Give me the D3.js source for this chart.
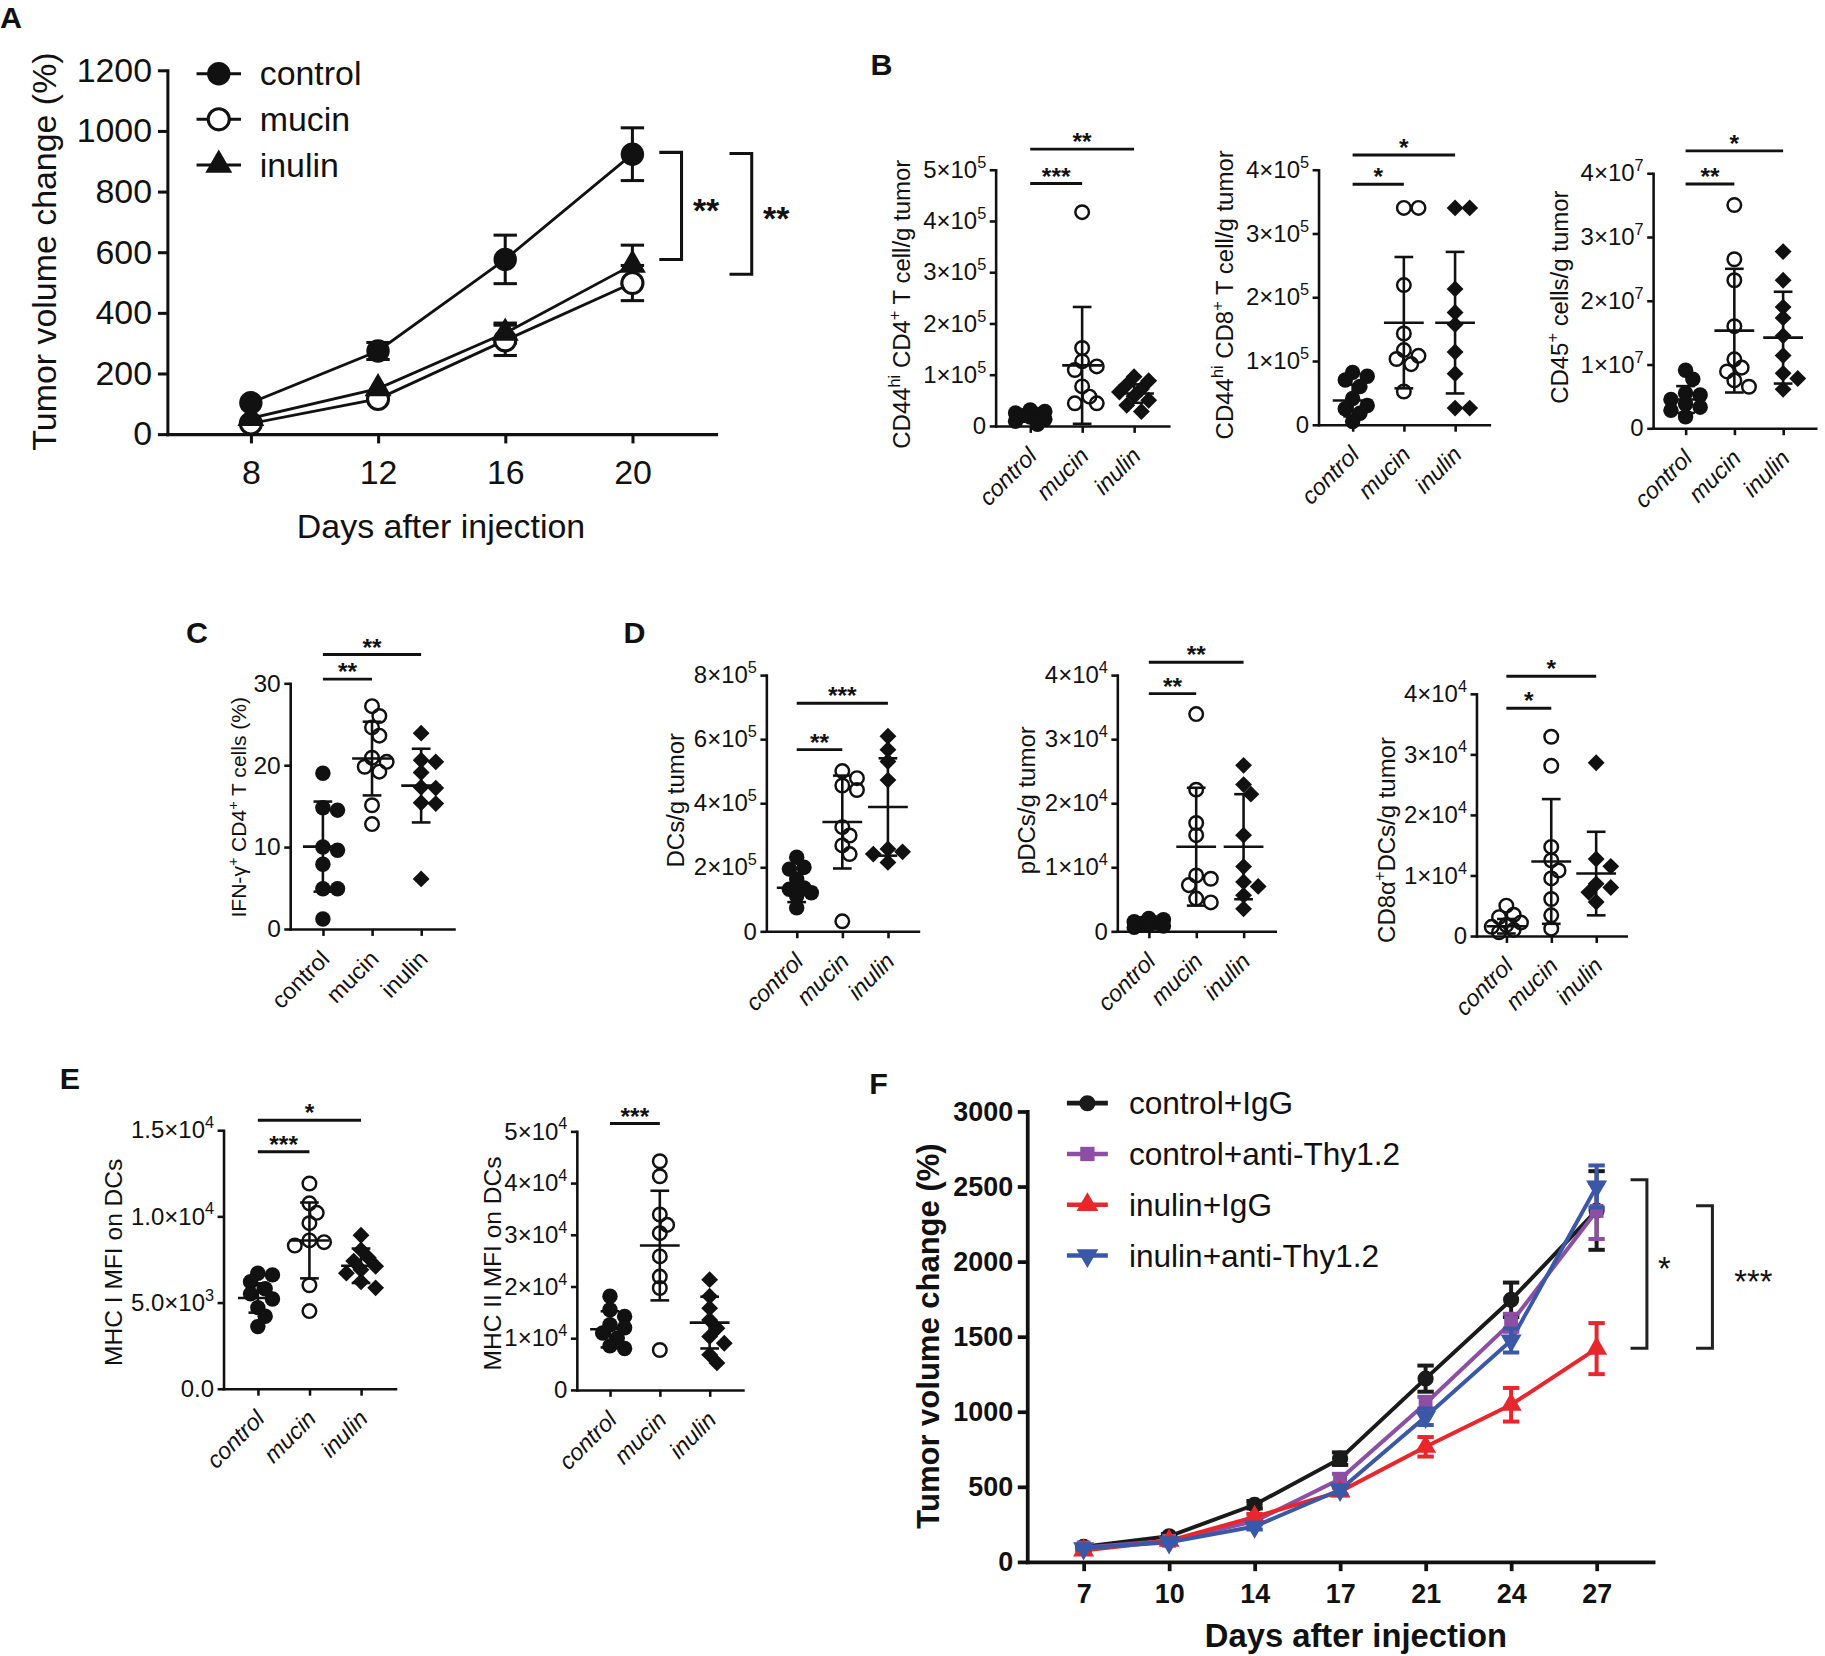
<!DOCTYPE html>
<html>
<head>
<meta charset="utf-8">
<script src="https://cdn.jsdelivr.net/npm/d3@7"></script>
<style>
  body { margin: 0; background: #fff; }
  text { font-family: "Liberation Sans", Arial, Helvetica, sans-serif; fill: #111; }
</style>
</head>
<body>
<script>
// ---------- data ----------
const groups = ["control", "mucin", "inulin"];

// A: tumor volume change (%), mean and SEM
const daysA = [8, 12, 16, 20];
const aControl = [103, 274, 576, 923];
const aControlErr = [8, 28, 80, 87];
const aMucin = [35, 116, 309, 498];
const aMucinErr = [5, 12, 50, 58];
const aInulin = [52, 150, 333, 558];
const aInulinErr = [5, 12, 33, 65];
const aTicks = [0, 200, 400, 600, 800, 1000, 1200];
const aBrackets = [[929, 576, "**"], [925, 527, "**"]];

// B1: CD44hi CD4+ T cell/g tumor (x1e5)
const b1Control = [0.31, 0.28, 0.25, 0.22, 0.2, 0.17, 0.13, 0.09, 0.03];
const b1Mucin = [4.17, 1.52, 1.26, 1.16, 1.09, 0.77, 0.57, 0.44, 0.44];
const b1Inulin = [0.96, 0.88, 0.8, 0.72, 0.66, 0.58, 0.5, 0.4, 0.28];
const b1Mean = [0.18, 1.18, 0.63];
const b1Sd = [0.08, 1.14, 0.18];
const b1Ticks = [0, 1, 2, 3, 4, 5];
const b1Labels = ["0", "1×10{5}", "2×10{5}", "3×10{5}", "4×10{5}", "5×10{5}"];
const b1Sig = [["control", "mucin", "***", 4.73], ["control", "inulin", "**", 5.4]];

// B2: CD44hi CD8+ T cell/g tumor (x1e5)
const b2Control = [0.82, 0.76, 0.7, 0.6, 0.41, 0.3, 0.25, 0.18, 0.05];
const b2Mucin = [3.4, 3.4, 2.19, 1.43, 1.17, 1.08, 1.03, 0.95, 0.52];
const b2Inulin = [3.4, 3.4, 2.13, 1.76, 1.57, 1.14, 0.8, 0.26, 0.26];
const b2Mean = [0.38, 1.6, 1.6];
const b2Sd = [0.25, 1.03, 1.11];
const b2Ticks = [0, 1, 2, 3, 4];
const b2Labels = ["0", "1×10{5}", "2×10{5}", "3×10{5}", "4×10{5}"];
const b2Sig = [["control", "mucin", "*", 3.77], ["control", "inulin", "*", 4.23]];

// B3: CD45+ cells/g tumor (x1e7)
const b3Control = [0.91, 0.77, 0.55, 0.52, 0.45, 0.38, 0.33, 0.28, 0.18];
const b3Mucin = [3.5, 2.65, 2.32, 1.6, 1.08, 0.95, 0.89, 0.75, 0.65];
const b3Inulin = [2.77, 2.32, 1.9, 1.73, 1.45, 1.14, 0.86, 0.78, 0.61];
const b3Mean = [0.45, 1.53, 1.42];
const b3Sd = [0.21, 0.97, 0.72];
const b3Ticks = [0, 1, 2, 3, 4];
const b3Labels = ["0", "1×10{7}", "2×10{7}", "3×10{7}", "4×10{7}"];
const b3Sig = [["control", "mucin", "**", 3.83], ["control", "inulin", "*", 4.35]];

// C: IFN-γ+ CD4+ T cells (%)
const cControl = [19, 14.8, 14.5, 10, 9.6, 7.9, 4.9, 4.9, 1.2];
const cMucin = [27.2, 26, 24.6, 23.6, 20.9, 20.4, 19.8, 19.2, 15.1, 12.8];
const cInulin = [23.9, 20.6, 20.4, 19.1, 17.3, 17.2, 15.4, 15.3, 6.1];
const cMean = [10.05, 20.8, 17.5];
const cSd = [5.5, 4.5, 4.5];
const cTicks = [0, 10, 20, 30];
const cLabels = ["0", "10", "20", "30"];
const cSig = [["control", "mucin", "**", 30.5], ["control", "inulin", "**", 33.5]];

// D1: DCs/g tumor (x1e5)
const d1Control = [2.31, 2.0, 1.94, 1.63, 1.35, 1.31, 1.2, 1.1, 0.73];
const d1Mucin = [5.0, 4.78, 4.55, 4.41, 3.25, 2.99, 2.68, 2.41, 0.31];
const d1Inulin = [6.09, 5.67, 5.3, 4.72, 2.57, 2.48, 2.41, 2.15];
const d1Mean = [1.36, 3.41, 3.88];
const d1Sd = [0.45, 1.45, 1.52];
const d1Ticks = [0, 2, 4, 6, 8];
const d1Labels = ["0", "2×10{5}", "4×10{5}", "6×10{5}", "8×10{5}"];
const d1Sig = [["control", "mucin", "**", 5.67], ["control", "inulin", "***", 7.12]];

// D2: pDCs/g tumor (x1e4)
const d2Control = [0.2, 0.18, 0.15, 0.13, 0.12, 0.1, 0.08, 0.06];
const d2Mucin = [3.39, 2.21, 1.69, 1.5, 0.87, 0.82, 0.72, 0.51, 0.45];
const d2Inulin = [2.59, 2.29, 2.14, 1.5, 1.01, 0.77, 0.7, 0.56, 0.35];
const d2Mean = [0.12, 1.32, 1.32];
const d2Sd = [0.05, 0.92, 0.82];
const d2Ticks = [0, 1, 2, 3, 4];
const d2Labels = ["0", "1×10{4}", "2×10{4}", "3×10{4}", "4×10{4}"];
const d2Sig = [["control", "mucin", "**", 3.71], ["control", "inulin", "**", 4.2]];

// D3: CD8α+ DCs/g tumor (x1e4)
const d3Control = [0.5, 0.35, 0.31, 0.22, 0.18, 0.15, 0.1, 0.06];
const d3Mucin = [3.29, 2.81, 1.47, 1.25, 1.08, 0.95, 0.61, 0.34, 0.12];
const d3Inulin = [2.86, 1.27, 1.15, 0.86, 0.8, 0.72, 0.56];
const d3Mean = [0.16, 1.23, 1.03];
const d3Sd = [0.12, 1.03, 0.69];
const d3Ticks = [0, 1, 2, 3, 4];
const d3Labels = ["0", "1×10{4}", "2×10{4}", "3×10{4}", "4×10{4}"];
const d3Sig = [["control", "mucin", "*", 3.76], ["control", "inulin", "*", 4.29]];

// E1: MHC I MFI on DCs (x1e3)
const e1Control = [6.7, 6.6, 6.2, 5.8, 5.5, 5.2, 4.7, 4.2, 3.6];
const e1Mucin = [11.9, 10.75, 10.2, 9.6, 8.6, 8.5, 8.3, 6.0, 4.5];
const e1Inulin = [8.9, 8.05, 7.6, 7.4, 7.1, 6.9, 6.7, 6.2, 5.85];
const e1Mean = [5.26, 8.6, 7.13];
const e1Sd = [0.85, 2.2, 1.0];
const e1Ticks = [0, 5, 10, 15];
const e1Labels = ["0.0", "5.0×10{3}", "1.0×10{4}", "1.5×10{4}"];
const e1Sig = [["control", "mucin", "***", 13.74], ["control", "inulin", "*", 15.57]];

// E2: MHC II MFI on DCs (x1e4)
const e2Control = [1.81, 1.55, 1.42, 1.26, 1.2, 1.1, 1.0, 0.85, 0.8];
const e2Mucin = [4.42, 4.13, 3.39, 3.19, 3.03, 2.58, 2.19, 1.97, 0.77];
const e2Inulin = [2.13, 1.81, 1.58, 1.35, 1.19, 1.03, 0.9, 0.68, 0.52];
const e2Mean = [1.17, 2.79, 1.3];
const e2Sd = [0.35, 1.06, 0.5];
const e2Ticks = [0, 1, 2, 3, 4, 5];
const e2Labels = ["0", "1×10{4}", "2×10{4}", "3×10{4}", "4×10{4}", "5×10{4}"];
const e2Sig = [["control", "mucin", "***", 5.15]];

// F: tumor volume change (%), mean and SEM
const daysF = [7, 10, 14, 17, 21, 24, 27];
const fSeries = ["control+IgG", "control+anti-Thy1.2", "inulin+IgG", "inulin+anti-Thy1.2"];
const fControlIgG = [100, 170, 380, 687, 1220, 1745, 2340];
const fControlIgGErr = [8, 15, 25, 42, 87, 115, 262];
const fControlThy = [95, 140, 270, 551, 1054, 1592, 2337];
const fControlThyErr = [8, 12, 20, 35, 45, 60, 187];
const fInulinIgG = [75, 140, 299, 468, 766, 1046, 1420];
const fInulinIgGErr = [12, 15, 20, 25, 65, 112, 170];
const fInulinThy = [90, 130, 235, 480, 966, 1474, 2500];
const fInulinThyErr = [10, 12, 20, 30, 55, 80, 140];
const fTicks = [0, 500, 1000, 1500, 2000, 2500, 3000];
const fBrackets = [[2545, 1422, "*"], [2372, 1422, "***"]];

// ---------- drawing ----------
const svg = d3.select("body").append("svg")
  .attr("width", 1825).attr("height", 1656)
  .attr("viewBox", "0 0 1560 1415.5");

// text with {superscript} parts
function rich(t, str, fs) {
  const parts = str.split(/(\{[^}]*\})/).filter(p => p.length);
  let up = false;
  t.text(null);
  parts.forEach(p => {
    const sup = p[0] === "{";
    const ts = t.append("tspan").text(sup ? p.slice(1, -1) : p);
    if (sup) { ts.attr("font-size", fs * 0.68).attr("dy", -fs * 0.42); up = true; }
    else if (up) { ts.attr("dy", fs * 0.42); up = false; }
  });
}

function panelLabel(x, y, s) {
  svg.append("text").attr("x", x).attr("y", y)
    .attr("font-size", 26).attr("font-weight", "bold").text(s);
}

function styleAxis(g, w) {
  g.selectAll(".domain, .tick line").attr("stroke", "#111").attr("stroke-width", w);
  g.select(".domain").attr("stroke-linecap", "square");
}

function diamondPath(r) {
  return `M0,${-r}L${r},0L0,${r}L${-r},0Z`;
}

// GraphPad-like sideways spreading of overlapping points (some overlap allowed)
function swarm(vals, cx, y, d) {
  const placed = [];
  const offs = [0, 1, -1, 2, -2].map(k => k * d * 0.5);
  vals.map(v => y(v)).sort((a, b) => a - b).forEach(py => {
    let best = 0, bestD = -1;
    for (const o of offs) {
      const md = placed.length ? d3.min(placed, q => Math.hypot(q[0] - (cx + o), q[1] - py)) : Infinity;
      if (md >= d * 0.72) { best = o; break; }
      if (md > bestD) { bestD = md; best = o; }
    }
    placed.push([cx + best, py]);
  });
  return placed;
}

function scatter(p) {
  const g = svg.append("g");
  const y = d3.scaleLinear().domain([0, d3.max(p.ticks)]).range([p.y0, p.yTop]);
  const x = d3.scalePoint().domain(groups).range([p.x0, p.x1]).padding(0.667);
  const fs = p.fs || 20.5;

  const gy = g.append("g").attr("transform", `translate(${p.x0},0)`)
    .call(d3.axisLeft(y).tickValues(p.ticks).tickSize(5).tickSizeOuter(0).tickPadding(3)
      .tickFormat((d, i) => p.labels[i]));
  gy.selectAll(".tick text").attr("font-size", fs).attr("fill", "#111")
    .each(function (d, i) { rich(d3.select(this), p.labels[i], fs); });
  styleAxis(gy, 2.2);
  const labelLeft = p.x0 + gy.node().getBBox().x;

  const gx = g.append("g").attr("transform", `translate(0,${p.y0})`)
    .call(d3.axisBottom(x).tickSize(6).tickSizeOuter(0).tickFormat(""));
  styleAxis(gx, 2.2);

  g.selectAll(".cat").data(groups).join("text").attr("class", "cat")
    .attr("transform", d => `translate(${x(d) - 3},${p.y0 + 17}) rotate(-45)`)
    .attr("text-anchor", "end").attr("dy", "0.7em")
    .attr("font-size", 20)
    .attr("font-style", p.italic ? "italic" : null)
    .text(d => d);

  const tfs = p.titleFs || 20.5;
  const title = g.append("text")
    .attr("transform", `translate(${labelLeft - (p.gap ?? 8)},${p.ty}) rotate(-90)`)
    .attr("text-anchor", "middle").attr("font-size", tfs);
  rich(title, p.title, tfs);

  const kinds = [p.ctrlKind || "dot", "ring", "diamond"];
  p.vals.forEach((vals, gi) => {
    const pts = swarm(vals, x(groups[gi]), y, 12.5);
    const kind = kinds[gi];
    if (kind === "diamond") {
      g.append("g").selectAll("path").data(pts).join("path")
        .attr("transform", d => `translate(${d[0]},${d[1]})`)
        .attr("d", diamondPath(7.2)).attr("fill", "#111");
    } else {
      g.append("g").selectAll("circle").data(pts).join("circle")
        .attr("cx", d => d[0]).attr("cy", d => d[1])
        .attr("r", kind === "dot" ? 6.6 : 5.8)
        .attr("fill", kind === "dot" ? "#111" : "none")
        .attr("stroke", "#111").attr("stroke-width", kind === "dot" ? 0 : 2.1);
    }
    // mean ± SD
    const cx = x(groups[gi]), m = p.mean[gi], s = p.sd[gi];
    const eb = g.append("g").attr("stroke", "#111").attr("stroke-width", 2.2);
    eb.append("line").attr("x1", cx).attr("x2", cx).attr("y1", y(Math.max(0, m - s))).attr("y2", y(m + s));
    eb.append("line").attr("x1", cx - 8).attr("x2", cx + 8).attr("y1", y(m + s)).attr("y2", y(m + s));
    if (m - s > 0) eb.append("line").attr("x1", cx - 8).attr("x2", cx + 8).attr("y1", y(m - s)).attr("y2", y(m - s));
    eb.append("line").attr("x1", cx - 17).attr("x2", cx + 17).attr("y1", y(m)).attr("y2", y(m));
  });

  p.sig.forEach(([a, b, lab, lev]) => {
    g.append("line").attr("x1", x(a)).attr("x2", x(b)).attr("y1", y(lev)).attr("y2", y(lev))
      .attr("stroke", "#111").attr("stroke-width", 2.5);
    g.append("text").attr("x", (x(a) + x(b)) / 2).attr("y", y(lev) + 1)
      .attr("text-anchor", "middle").attr("font-size", 21).attr("font-weight", "bold").text(lab);
  });
}

// ---------- panel A ----------
(function () {
  const g = svg.append("g");
  const x = d3.scalePoint().domain(daysA).range([143, 612]).padding(0.657);
  const y = d3.scaleLinear().domain([0, 1200]).range([371, 60]);
  const gy = g.append("g").attr("transform", "translate(143,0)")
    .call(d3.axisLeft(y).tickValues(aTicks).tickSize(8).tickSizeOuter(0).tickPadding(5)
      .tickFormat(d3.format("d")));
  gy.selectAll(".tick text").attr("font-size", 29).attr("fill", "#111");
  styleAxis(gy, 2.6);
  const gx = g.append("g").attr("transform", "translate(0,371)")
    .call(d3.axisBottom(x).tickSize(8).tickSizeOuter(0).tickPadding(14));
  gx.selectAll(".tick text").attr("font-size", 29).attr("fill", "#111");
  styleAxis(gx, 2.6);

  g.append("text").attr("transform", "translate(48,215) rotate(-90)")
    .attr("text-anchor", "middle").attr("font-size", 29).text("Tumor volume change (%)");
  g.append("text").attr("x", 377).attr("y", 460)
    .attr("text-anchor", "middle").attr("font-size", 29).text("Days after injection");

  const series = [
    { v: aControl, e: aControlErr, kind: "dot" },
    { v: aMucin, e: aMucinErr, kind: "ring" },
    { v: aInulin, e: aInulinErr, kind: "tri" }
  ];
  const line = d3.line().x((d, i) => x(daysA[i])).y(d => y(d));
  function mark(sel, kind) {
    if (kind === "dot") sel.append("circle").attr("r", 10).attr("fill", "#111");
    else if (kind === "ring") sel.append("circle").attr("r", 9).attr("fill", "#fff")
      .attr("stroke", "#111").attr("stroke-width", 2.6);
    else sel.append("path").attr("d", d3.symbol(d3.symbolTriangle, 230)()).attr("fill", "#111");
  }
  series.forEach(s => {
    g.append("path").datum(s.v).attr("d", line).attr("fill", "none")
      .attr("stroke", "#111").attr("stroke-width", 2.4);
    const eb = g.append("g").attr("stroke", "#111").attr("stroke-width", 2.6);
    s.v.forEach((v, i) => {
      const cx = x(daysA[i]);
      if (s.e[i] < 15) return;
      eb.append("line").attr("x1", cx).attr("x2", cx).attr("y1", y(v - s.e[i])).attr("y2", y(v + s.e[i]));
      [v - s.e[i], v + s.e[i]].forEach(t => eb.append("line")
        .attr("x1", cx - 10).attr("x2", cx + 10).attr("y1", y(t)).attr("y2", y(t)));
    });
  });
  series.forEach(s => {
    s.v.forEach((v, i) => mark(g.append("g").attr("transform", `translate(${x(daysA[i])},${y(v)})`), s.kind));
  });

  // legend
  groups.forEach((name, i) => {
    const cy = 63 + i * 39;
    g.append("line").attr("x1", 168).attr("x2", 206).attr("y1", cy).attr("y2", cy)
      .attr("stroke", "#111").attr("stroke-width", 2.6);
    mark(g.append("g").attr("transform", `translate(187,${cy})`), series[i].kind);
    g.append("text").attr("x", 222).attr("y", cy + 10).attr("font-size", 29).text(name);
  });

  // brackets
  const bx = x(20);
  aBrackets.forEach(([top, bot, lab], i) => {
    const xr = bx + 42 + i * 60, xl = xr - 19;
    g.append("path").attr("d", `M${xl},${y(top)}H${xr}V${y(bot)}H${xl}`)
      .attr("fill", "none").attr("stroke", "#111").attr("stroke-width", 2.6);
    g.append("text").attr("x", xr + 21).attr("y", (y(top) + y(bot)) / 2 + 14)
      .attr("text-anchor", "middle").attr("font-size", 29).attr("font-weight", "bold").text(lab);
  });
})();

// ---------- panels B–E ----------
const scatterSpecs = [
  { x0: 851, x1: 999, yTop: 145, y0: 364, ticks: b1Ticks, labels: b1Labels, title: "CD44{hi} CD4{+} T cell/g tumor",
    ty: 260, vals: [b1Control, b1Mucin, b1Inulin], mean: b1Mean, sd: b1Sd, sig: b1Sig, italic: true, gap: 11 },
  { x0: 1127, x1: 1273, yTop: 145, y0: 363, ticks: b2Ticks, labels: b2Labels, title: "CD44{hi} CD8{+} T cell/g tumor",
    ty: 252, vals: [b2Control, b2Mucin, b2Inulin], mean: b2Mean, sd: b2Sd, sig: b2Sig, italic: true, gap: 11 },
  { x0: 1413, x1: 1552, yTop: 148, y0: 366, ticks: b3Ticks, labels: b3Labels, title: "CD45{+} cells/g tumor",
    ty: 254, vals: [b3Control, b3Mucin, b3Inulin], mean: b3Mean, sd: b3Sd, sig: b3Sig, italic: true, gap: 11 },
  { x0: 248, x1: 388, yTop: 584, y0: 794, ticks: cTicks, labels: cLabels, title: "IFN-γ{+} CD4{+} T cells (%)",
    ty: 690, vals: [cControl, cMucin, cInulin], mean: cMean, sd: cSd, sig: cSig, titleFs: 18, fs: 21, gap: 6 },
  { x0: 655, x1: 785, yTop: 577, y0: 796, ticks: d1Ticks, labels: d1Labels, title: "DCs/g tumor",
    ty: 684, vals: [d1Control, d1Mucin, d1Inulin], mean: d1Mean, sd: d1Sd, sig: d1Sig, italic: true },
  { x0: 955, x1: 1090, yTop: 577, y0: 796, ticks: d2Ticks, labels: d2Labels, title: "pDCs/g tumor",
    ty: 684, vals: [d2Control, d2Mucin, d2Inulin], mean: d2Mean, sd: d2Sd, sig: d2Sig, italic: true },
  { x0: 1262, x1: 1390, yTop: 593, y0: 800, ticks: d3Ticks, labels: d3Labels, title: "CD8α{+}DCs/g tumor",
    ty: 718, vals: [d3Control, d3Mucin, d3Inulin], mean: d3Mean, sd: d3Sd, sig: d3Sig, italic: true, ctrlKind: "ring" },
  { x0: 191, x1: 338, yTop: 966, y0: 1187, ticks: e1Ticks, labels: e1Labels, title: "MHC I MFI on DCs",
    ty: 1079, vals: [e1Control, e1Mucin, e1Inulin], mean: e1Mean, sd: e1Sd, sig: e1Sig, italic: true, titleFs: 21, gap: 8 },
  { x0: 493, x1: 635, yTop: 967, y0: 1188, ticks: e2Ticks, labels: e2Labels, title: "MHC II MFI on DCs",
    ty: 1080, vals: [e2Control, e2Mucin, e2Inulin], mean: e2Mean, sd: e2Sd, sig: e2Sig, italic: true, titleFs: 21, gap: 3 }
];
scatterSpecs.forEach(scatter);

// ---------- panel F ----------
(function () {
  const g = svg.append("g");
  const colors = ["#1a1a1a", "#8c4fa3", "#e8262b", "#3b57a7"];
  const vals = [fControlIgG, fControlThy, fInulinIgG, fInulinThy];
  const errs = [fControlIgGErr, fControlThyErr, fInulinIgGErr, fInulinThyErr];
  const shapes = [d3.symbolCircle, d3.symbolSquare, d3.symbolTriangle, d3.symbolTriangle];
  const rot = [0, 0, 0, 180];
  const x = d3.scalePoint().domain(daysF).range([878, 1413]).padding(0.66);
  const y = d3.scaleLinear().domain([0, 3000]).range([1335, 950]);

  const gy = g.append("g").attr("transform", "translate(878,0)")
    .call(d3.axisLeft(y).tickValues(fTicks).tickSize(8).tickSizeOuter(0).tickPadding(4)
      .tickFormat(d3.format("d")));
  gy.selectAll(".tick text").attr("font-size", 23).attr("font-weight", "bold").attr("fill", "#111");
  styleAxis(gy, 3.2);
  const gx = g.append("g").attr("transform", "translate(0,1335)")
    .call(d3.axisBottom(x).tickSize(8).tickSizeOuter(0).tickPadding(11));
  gx.selectAll(".tick text").attr("font-size", 23).attr("font-weight", "bold").attr("fill", "#111");
  styleAxis(gx, 3.2);

  g.append("text").attr("transform", "translate(803,1142) rotate(-90)")
    .attr("text-anchor", "middle").attr("font-size", 26.5).attr("font-weight", "bold")
    .text("Tumor volume change (%)");
  g.append("text").attr("x", 1159).attr("y", 1408)
    .attr("text-anchor", "middle").attr("font-size", 28).attr("font-weight", "bold")
    .text("Days after injection");

  const line = d3.line().x((d, i) => x(daysF[i])).y(d => y(d));
  vals.forEach((v, si) => {
    g.append("path").datum(v).attr("d", line).attr("fill", "none")
      .attr("stroke", colors[si]).attr("stroke-width", 3.4);
  });
  vals.forEach((v, si) => {
    const eb = g.append("g").attr("stroke", colors[si]).attr("stroke-width", 3.4);
    v.forEach((m, i) => {
      const cx = x(daysF[i]), e = errs[si][i];
      eb.append("line").attr("x1", cx).attr("x2", cx).attr("y1", y(m - e)).attr("y2", y(m + e));
      [m - e, m + e].forEach(t => eb.append("line")
        .attr("x1", cx - 7).attr("x2", cx + 7).attr("y1", y(t)).attr("y2", y(t)));
    });
    g.append("g").selectAll("path").data(v).join("path")
      .attr("transform", (d, i) => `translate(${x(daysF[i])},${y(d)}) rotate(${rot[si]})`)
      .attr("d", d3.symbol(shapes[si], si === 0 ? 150 : 140)).attr("fill", colors[si]);
  });

  // legend
  fSeries.forEach((name, si) => {
    const cy = 943 + si * 43.4;
    g.append("line").attr("x1", 912).attr("x2", 947).attr("y1", cy).attr("y2", cy)
      .attr("stroke", colors[si]).attr("stroke-width", 4);
    g.append("path").attr("transform", `translate(929.5,${cy}) rotate(${rot[si]})`)
      .attr("d", d3.symbol(shapes[si], 150)).attr("fill", colors[si]);
    g.append("text").attr("x", 965).attr("y", cy + 9.5).attr("font-size", 27).text(name);
  });

  // brackets
  const bx = x(27);
  fBrackets.forEach(([top, bot, lab], i) => {
    const xr = bx + 43 + i * 56, xl = xr - 14;
    g.append("path").attr("d", `M${xl},${y(top)}H${xr}V${y(bot)}H${xl}`)
      .attr("fill", "none").attr("stroke", "#222").attr("stroke-width", 2.6);
    g.append("text").attr("x", xr + 15 + i * 20).attr("y", (y(top) + y(bot)) / 2 + 14)
      .attr("text-anchor", "middle").attr("font-size", 28).text(lab);
  });
})();

// panel letters
panelLabel(0, 24, "A");
panelLabel(744, 64, "B");
panelLabel(159, 550, "C");
panelLabel(533, 550, "D");
panelLabel(51, 931, "E");
panelLabel(743, 935, "F");
</script>
</body>
</html>
